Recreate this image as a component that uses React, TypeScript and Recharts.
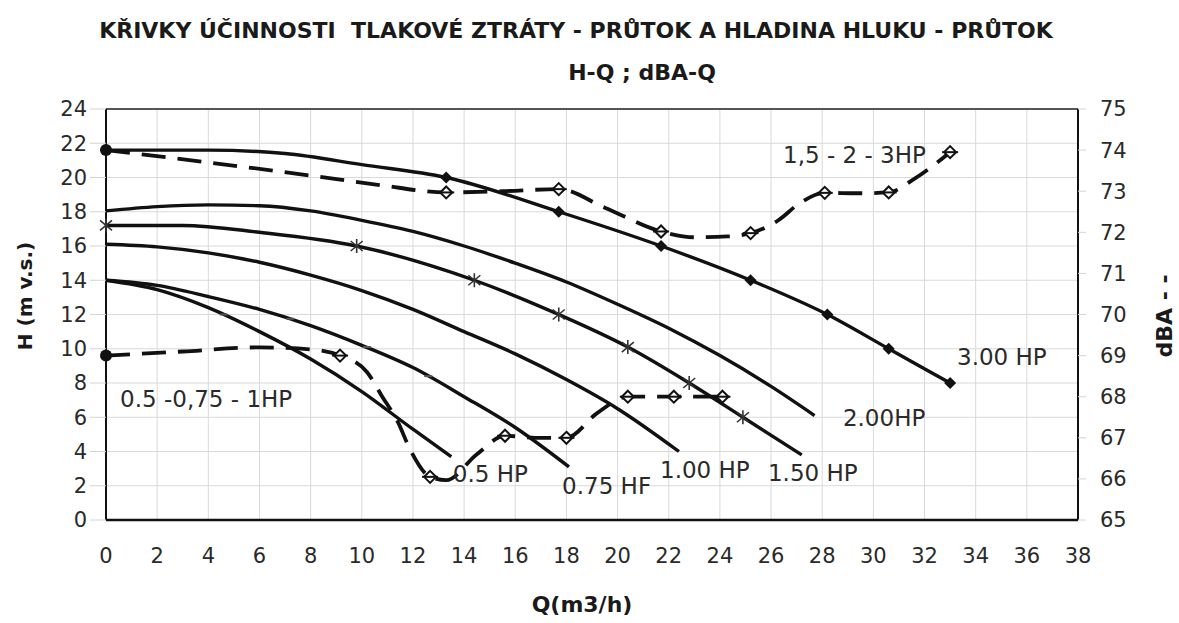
import React from 'react';
import { ComposedChart, Line, XAxis, YAxis, CartesianGrid, ReferenceLine, ReferenceDot } from 'recharts';

// ---- axis ticks ----
const Q_TICKS = [0, 2, 4, 6, 8, 10, 12, 14, 16, 18, 20, 22, 24, 26, 28, 30, 32, 34, 36, 38];
const H_TICKS = [0, 2, 4, 6, 8, 10, 12, 14, 16, 18, 20, 22, 24];
const DBA_TICKS = [65, 66, 67, 68, 69, 70, 71, 72, 73, 74, 75];

// ---- H-Q curves (Q m3/h, H m v.s.) ----
const hp3Curve = [
  { q: 0, h: 21.6 }, { q: 4, h: 21.6 }, { q: 7, h: 21.4 }, { q: 10, h: 20.75 }, { q: 13.3, h: 20.0 },
  { q: 17.7, h: 18.0 }, { q: 21.7, h: 16.0 }, { q: 25.2, h: 14.0 }, { q: 28.2, h: 12.0 },
  { q: 30.6, h: 10.0 }, { q: 33, h: 8.0 },
];
const hp3Markers = [
  { q: 0, h: 21.6 }, { q: 13.3, h: 20.0 }, { q: 17.7, h: 18.0 }, { q: 21.7, h: 16.0 },
  { q: 25.2, h: 14.0 }, { q: 28.2, h: 12.0 }, { q: 30.6, h: 10.0 }, { q: 33, h: 8.0 },
];
const hp2Curve = [
  { q: 0, h: 18.05 }, { q: 2, h: 18.3 }, { q: 4, h: 18.4 }, { q: 6, h: 18.35 }, { q: 8, h: 18.05 },
  { q: 10, h: 17.5 }, { q: 12, h: 16.85 }, { q: 14, h: 16.0 }, { q: 16, h: 15.0 }, { q: 18, h: 13.9 },
  { q: 20, h: 12.6 }, { q: 22, h: 11.2 }, { q: 24, h: 9.6 }, { q: 26, h: 7.8 }, { q: 27.7, h: 6.1 },
];
const hp15Curve = [
  { q: 0, h: 17.2 }, { q: 3, h: 17.2 }, { q: 6, h: 16.8 }, { q: 9.8, h: 16.0 }, { q: 14.4, h: 14.0 },
  { q: 17.7, h: 12.0 }, { q: 20.4, h: 10.1 }, { q: 22.8, h: 8.0 }, { q: 24.9, h: 6.0 }, { q: 27.2, h: 3.8 },
];
const hp15Markers = [
  { q: 0, h: 17.2 }, { q: 9.8, h: 16.0 }, { q: 14.4, h: 14.0 }, { q: 17.7, h: 12.0 },
  { q: 20.4, h: 10.1 }, { q: 22.8, h: 8.0 }, { q: 24.9, h: 6.0 },
];
const hp1Curve = [
  { q: 0, h: 16.1 }, { q: 2, h: 15.95 }, { q: 4, h: 15.6 }, { q: 6, h: 15.05 }, { q: 8, h: 14.3 },
  { q: 10, h: 13.4 }, { q: 12, h: 12.3 }, { q: 14, h: 11.0 }, { q: 16, h: 9.7 }, { q: 18, h: 8.2 },
  { q: 20, h: 6.5 }, { q: 22.4, h: 4.0 },
];
const hp075Curve = [
  { q: 0, h: 14.0 }, { q: 2, h: 13.7 }, { q: 4, h: 13.05 }, { q: 6, h: 12.3 }, { q: 8, h: 11.35 },
  { q: 10, h: 10.2 }, { q: 12, h: 8.9 }, { q: 14, h: 7.2 }, { q: 16, h: 5.4 }, { q: 18.1, h: 3.1 },
];
const hp075Markers = [{ q: 7.2, h: 11.75 }, { q: 10.2, h: 10.1 }, { q: 12.6, h: 8.4 }];
const hp05Curve = [
  { q: 0, h: 14.0 }, { q: 2, h: 13.45 }, { q: 4, h: 12.4 }, { q: 6, h: 11.0 }, { q: 8, h: 9.4 },
  { q: 10, h: 7.5 }, { q: 12, h: 5.3 }, { q: 13.5, h: 3.7 },
];
const hp05Markers = [{ q: 4.6, h: 12.0 }];

// ---- dBA-Q curves ----
const dbaHighCurve = [
  { q: 0, db: 74.0 }, { q: 4, db: 73.7 }, { q: 8, db: 73.38 }, { q: 10.7, db: 73.15 }, { q: 13.3, db: 72.97 },
  { q: 15.5, db: 73.0 }, { q: 17.7, db: 73.05 }, { q: 19.5, db: 72.6 }, { q: 21.7, db: 72.02 },
  { q: 23, db: 71.88 }, { q: 24.3, db: 71.9 }, { q: 25.2, db: 71.98 }, { q: 26.3, db: 72.3 },
  { q: 27.1, db: 72.7 }, { q: 28.1, db: 72.96 }, { q: 29.4, db: 72.95 }, { q: 30.6, db: 72.97 },
  { q: 31.6, db: 73.3 }, { q: 33, db: 73.95 },
];
const dbaHighMarkers = [
  { q: 0, db: 74.0 }, { q: 13.3, db: 72.97 }, { q: 17.7, db: 73.05 }, { q: 21.7, db: 72.02 },
  { q: 25.2, db: 71.98 }, { q: 28.1, db: 72.96 }, { q: 30.6, db: 72.97 }, { q: 33, db: 73.95 },
];
const dbaLowCurve = [
  { q: 0, db: 69.0 }, { q: 3, db: 69.1 }, { q: 6, db: 69.2 }, { q: 8, db: 69.15 }, { q: 9.15, db: 69.0 },
  { q: 10.2, db: 68.6 }, { q: 10.8, db: 68.0 }, { q: 11.4, db: 67.4 }, { q: 11.9, db: 66.7 },
  { q: 12.67, db: 66.05 }, { q: 13.3, db: 65.97 }, { q: 14.5, db: 66.6 }, { q: 15.6, db: 67.05 },
  { q: 16.8, db: 67.0 }, { q: 18.0, db: 67.0 }, { q: 19.2, db: 67.6 }, { q: 20.4, db: 68.0 },
  { q: 22.2, db: 68.0 }, { q: 24.1, db: 68.0 },
];
const dbaLowMarkers = [
  { q: 0, db: 69.0 }, { q: 9.15, db: 69.0 }, { q: 12.67, db: 66.05 }, { q: 15.6, db: 67.05 },
  { q: 18.0, db: 67.0 }, { q: 20.4, db: 68.0 }, { q: 22.2, db: 68.0 }, { q: 24.1, db: 68.0 },
];

// ---- curve labels ----
const CURVE_LABELS = [
  { text: '0.5 -0,75 - 1HP', q: 0.55, h: 7.1 },
  { text: '0.5 HP', q: 13.56, h: 2.69 },
  { text: '0.75 HF', q: 17.83, h: 1.99 },
  { text: '1.00 HP', q: 21.66, h: 2.92 },
  { text: '1.50 HP', q: 25.88, h: 2.74 },
  { text: '2.00HP', q: 28.81, h: 5.96 },
  { text: '3.00 HP', q: 33.27, h: 9.52 },
  { text: '1,5 - 2 - 3HP', q: 26.47, h: 21.31 },
];

const FONT = 'DejaVu Sans';
const INK = '#1a1a1a';

const diamondDot = (p: any) => {
  const { cx, cy, index } = p;
  if (cx == null || cy == null) return <g key={`dd${index}`} />;
  return (
    <path key={`dd${index}`} d={`M${cx},${cy - 6}L${cx + 6},${cy}L${cx},${cy + 6}L${cx - 6},${cy}Z`} fill="#111" />
  );
};
const starDot = (p: any) => {
  const { cx, cy, index } = p;
  if (cx == null || cy == null) return <g key={`sd${index}`} />;
  return (
    <path
      key={`sd${index}`}
      d={`M${cx - 6},${cy - 5}L${cx + 6},${cy + 5}M${cx - 6},${cy + 5}L${cx + 6},${cy - 5}M${cx},${cy - 7}L${cx},${cy + 7}`}
      stroke="#333"
      strokeWidth={1.6}
      fill="none"
    />
  );
};
const tickDot = (p: any) => {
  const { cx, cy, index } = p;
  if (cx == null || cy == null) return <g key={`td${index}`} />;
  return <path key={`td${index}`} d={`M${cx - 4},${cy}L${cx + 4},${cy}`} stroke="#555" strokeWidth={2} />;
};
const noiseDot = (p: any) => {
  const { cx, cy, index } = p;
  if (cx == null || cy == null) return <g key={`nd${index}`} />;
  if (index === 0) return <circle key={`nd${index}`} cx={cx} cy={cy} r={6} fill="#111" />;
  return (
    <g key={`nd${index}`}>
      <path d={`M${cx},${cy - 6}L${cx + 6},${cy}L${cx},${cy + 6}L${cx - 6},${cy}Z`} fill="#fff" stroke="#111" strokeWidth={2} />
      <path d={`M${cx - 8},${cy}L${cx + 8},${cy}`} stroke="#111" strokeWidth={2} />
    </g>
  );
};

const tickStyle = { fill: '#2a2a2a', fontSize: 21, fontFamily: FONT };

export default function App() {
  const solid = { stroke: '#111', strokeWidth: 3.4, dot: false, isAnimationActive: false, type: 'monotone' as const };
  const dashed = { stroke: '#111', strokeWidth: 3.8, strokeDasharray: '24 12', dot: false, isAnimationActive: false, type: 'monotone' as const };
  return (
    <div style={{ position: 'absolute', left: 0, top: 0, width: 1179, height: 623, background: '#fff' }}>
      <ComposedChart width={1179} height={623} margin={{ top: 109, right: 41, bottom: 73, left: 46 }}>
        <CartesianGrid yAxisId="h" stroke="#d9d9d9" strokeWidth={1} />
        <XAxis
          type="number"
          dataKey="q"
          domain={[0, 38]}
          ticks={Q_TICKS}
          interval={0}
          height={30}
          tickSize={0}
          tickMargin={28}
          tickLine={false}
          axisLine={{ stroke: '#111', strokeWidth: 2.5 }}
          tick={tickStyle}
        />
        <YAxis
          yAxisId="h"
          type="number"
          domain={[0, 24]}
          ticks={H_TICKS}
          interval={0}
          width={60}
          tickSize={16}
          tickMargin={3}
          tickLine={{ stroke: '#d4d4d4' }}
          axisLine={{ stroke: '#111', strokeWidth: 2 }}
          tick={tickStyle}
        />
        <YAxis
          yAxisId="db"
          orientation="right"
          type="number"
          domain={[65, 75]}
          ticks={DBA_TICKS}
          interval={0}
          width={60}
          tickSize={8}
          tickMargin={14}
          tickLine={{ stroke: '#d4d4d4' }}
          axisLine={{ stroke: '#111', strokeWidth: 2 }}
          tick={tickStyle}
        />
        <ReferenceLine yAxisId="h" y={24} stroke="#555" strokeWidth={2} />

        <Line yAxisId="h" data={hp05Curve} dataKey="h" {...solid} />
        <Line yAxisId="h" data={hp075Curve} dataKey="h" {...solid} />
        <Line yAxisId="h" data={hp1Curve} dataKey="h" {...solid} />
        <Line yAxisId="h" data={hp15Curve} dataKey="h" {...solid} />
        <Line yAxisId="h" data={hp2Curve} dataKey="h" {...solid} />
        <Line yAxisId="h" data={hp3Curve} dataKey="h" {...solid} />

        <Line yAxisId="h" data={hp05Markers} dataKey="h" stroke="none" dot={tickDot} isAnimationActive={false} />
        <Line yAxisId="h" data={hp075Markers} dataKey="h" stroke="none" dot={tickDot} isAnimationActive={false} />
        <Line yAxisId="h" data={hp15Markers} dataKey="h" stroke="none" dot={starDot} isAnimationActive={false} />
        <Line yAxisId="h" data={hp3Markers} dataKey="h" stroke="none" dot={diamondDot} isAnimationActive={false} />

        <Line yAxisId="db" data={dbaHighCurve} dataKey="db" {...dashed} />
        <Line yAxisId="db" data={dbaLowCurve} dataKey="db" {...dashed} />
        <Line yAxisId="db" data={dbaHighMarkers} dataKey="db" stroke="none" dot={noiseDot} isAnimationActive={false} />
        <Line yAxisId="db" data={dbaLowMarkers} dataKey="db" stroke="none" dot={noiseDot} isAnimationActive={false} />

        {CURVE_LABELS.map((l) => (
          <ReferenceDot
            key={l.text}
            yAxisId="h"
            x={l.q}
            y={l.h}
            r={0}
            fill="none"
            stroke="none"
            label={{ value: l.text, position: 'right', offset: 0, fill: '#2a2a2a', fontSize: 23, fontFamily: FONT }}
          />
        ))}
      </ComposedChart>

      <div style={{ position: 'absolute', left: 576, top: 31, transform: 'translate(-50%,-50%)', whiteSpace: 'pre', fontFamily: FONT, fontWeight: 'bold', fontSize: 22, color: INK, lineHeight: 1 }}>
        {'KŘIVKY ÚČINNOSTI  TLAKOVÉ ZTRÁTY - PRŮTOK A HLADINA HLUKU - PRŮTOK'}
      </div>
      <div style={{ position: 'absolute', left: 642, top: 73, transform: 'translate(-50%,-50%)', whiteSpace: 'pre', fontFamily: FONT, fontWeight: 'bold', fontSize: 22, color: INK, lineHeight: 1 }}>
        {'H-Q ; dBA-Q'}
      </div>
      <div style={{ position: 'absolute', left: 25, top: 296, transform: 'translate(-50%,-50%) rotate(-90deg)', whiteSpace: 'pre', fontFamily: FONT, fontWeight: 'bold', fontSize: 20, color: INK, lineHeight: 1 }}>
        {'H (m v.s.)'}
      </div>
      <div style={{ position: 'absolute', left: 1165, top: 316, transform: 'translate(-50%,-50%) rotate(-90deg)', whiteSpace: 'pre', fontFamily: FONT, fontWeight: 'bold', fontSize: 22, color: INK, lineHeight: 1 }}>
        {'dBA - -'}
      </div>
      <div style={{ position: 'absolute', left: 582, top: 605, transform: 'translate(-50%,-50%)', whiteSpace: 'pre', fontFamily: FONT, fontWeight: 'bold', fontSize: 22, color: INK, lineHeight: 1 }}>
        {'Q(m3/h)'}
      </div>
    </div>
  );
}
